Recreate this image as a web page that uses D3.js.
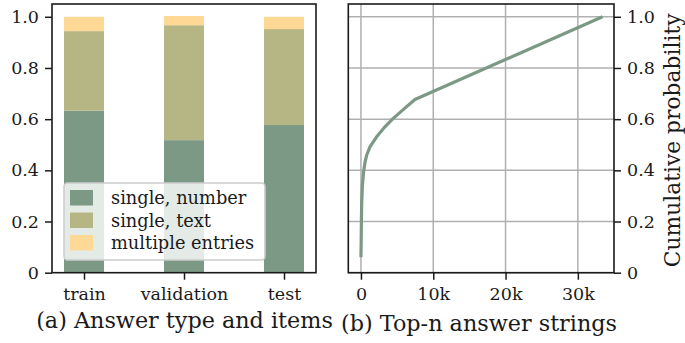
<!DOCTYPE html>
<html><head><meta charset="utf-8">
<script src="https://cdn.jsdelivr.net/npm/d3@7"></script>
<style>body{margin:0;background:#fff}svg{display:block}text{font-family:"DejaVu Serif",serif;fill:#1a1a1a}</style>
</head><body><svg id="c" width="685" height="343"></svg>
<script>
const splits = ["train","validation","test"];
const seriesNames = ["single, number","single, text","multiple entries"];
const singleNumber = [0.633, 0.518, 0.577];
const singleText = [0.311, 0.449, 0.375];
const multipleEntries = [0.056, 0.036, 0.048];
const seriesColors = ["#7b9985","#b6b584","#fed995"];
const yTicks = [0,0.2,0.4,0.6,0.8,1.0];
const yTickLabels = ["0","0.2","0.4","0.6","0.8","1.0"];
const topN = [0,30,60,100,200,350,550,800,1244,2170,3318,4466,6000,7466,33415];
const cumProb = [0.06,0.12,0.20,0.27,0.34,0.39,0.43,0.46,0.492,0.531,0.570,0.603,0.641,0.677,1.0];
const xTicks = [0,10000,20000,30000];
const xTickLabels = ["0","10k","20k","30k"];

const svg = d3.select("#c");
const yTop = 4, yBot = 272.7;
const fs = 17.5;
const tickLen = 7, tickPad = 6;
const spineW = 1.6;

function styleAxis(g){
  g.select(".domain").remove();
  g.selectAll("line").attr("stroke","#1a1a1a").attr("stroke-width",1.5);
  g.selectAll("text").attr("font-size",fs).attr("font-family","DejaVu Serif").attr("fill","#1a1a1a");
}

// ---------- panel (a) ----------
const L = {l:52, r:316};
const xa = d3.scaleLinear().domain([-0.32, 2.32]).range([L.l, L.r]);
const ya = d3.scaleLinear().domain([0, 1.05]).range([yBot, yTop]);
const ga = svg.append("g");
const bw = 0.4;
splits.forEach((s,i)=>{
  const vals = [singleNumber[i], singleText[i], multipleEntries[i]];
  let acc = 0;
  vals.forEach((v,k)=>{
    ga.append("rect").attr("x", xa(i-bw/2)).attr("width", xa(i+bw/2)-xa(i-bw/2))
      .attr("y", ya(acc+v)).attr("height", ya(acc)-ya(acc+v)).attr("fill", seriesColors[k]);
    acc += v;
  });
});
const gya = ga.append("g").attr("transform",`translate(${L.l},0)`)
  .call(d3.axisLeft(ya).tickValues(yTicks).tickFormat((d,i)=>yTickLabels[i]).tickSize(tickLen).tickPadding(tickPad));
const gxa = ga.append("g").attr("transform",`translate(0,${yBot})`)
  .call(d3.axisBottom(xa).tickValues([0,1,2]).tickFormat((d,i)=>splits[i]).tickSize(tickLen).tickPadding(tickPad));
styleAxis(gya); styleAxis(gxa);
gxa.selectAll("text").attr("dy","0.8em");

// legend
const lg = ga.append("g").attr("transform","translate(64,183)");
lg.append("rect").attr("width",201).attr("height",77).attr("rx",3.5).attr("fill","rgba(255,255,255,0.8)").attr("stroke","#cccccc").attr("stroke-width",1.5);
seriesNames.forEach((n,k)=>{
  lg.append("rect").attr("x",6).attr("y",7+k*22.5).attr("width",23).attr("height",15.5).attr("fill",seriesColors[k]);
  lg.append("text").attr("x",47).attr("y",21+k*22.5).attr("font-size",17.8).text(n);
});
ga.append("rect").attr("x",L.l).attr("y",yTop).attr("width",L.r-L.l).attr("height",yBot-yTop)
  .attr("fill","none").attr("stroke","#1a1a1a").attr("stroke-width",spineW);
svg.append("text").attr("x",184.5).attr("y",328).attr("text-anchor","middle").attr("font-size",22.3).text("(a) Answer type and items");

// ---------- panel (b) ----------
const R = {l:348.3, r:614};
const xb = d3.scaleLinear().domain([-1750, 35000]).range([R.l, R.r]);
const yb = d3.scaleLinear().domain([0, 1.05]).range([yBot, yTop]);
const gb = svg.append("g");
gb.append("g").selectAll("line").data(xTicks).join("line")
  .attr("x1",d=>xb(d)).attr("x2",d=>xb(d)).attr("y1",yTop).attr("y2",yBot).attr("stroke","#b0b0b0").attr("stroke-width",1.5);
gb.append("g").selectAll("line").data(yTicks).join("line")
  .attr("x1",R.l).attr("x2",R.r).attr("y1",d=>yb(d)).attr("y2",d=>yb(d)).attr("stroke","#b0b0b0").attr("stroke-width",1.5);
gb.append("path").datum(topN.map((x,i)=>[x,cumProb[i]]))
  .attr("d", d3.line().x(d=>xb(d[0])).y(d=>yb(d[1])))
  .attr("fill","none").attr("stroke","#7b9985").attr("stroke-width",3.2).attr("stroke-linejoin","round");
gb.append("rect").attr("x",R.l).attr("y",yTop).attr("width",R.r-R.l).attr("height",yBot-yTop)
  .attr("fill","none").attr("stroke","#1a1a1a").attr("stroke-width",spineW);
const gyb = gb.append("g").attr("transform",`translate(${R.r},0)`)
  .call(d3.axisRight(yb).tickValues(yTicks).tickFormat((d,i)=>yTickLabels[i]).tickSize(tickLen).tickPadding(tickPad));
const gxb = gb.append("g").attr("transform",`translate(0,${yBot})`)
  .call(d3.axisBottom(xb).tickValues(xTicks).tickFormat((d,i)=>xTickLabels[i]).tickSize(tickLen).tickPadding(tickPad));
styleAxis(gyb); styleAxis(gxb);
gxb.selectAll("text").attr("dy","0.8em");
svg.append("text").attr("transform",`translate(672,${(yTop+yBot)/2+2}) rotate(-90)`).attr("text-anchor","middle")
  .attr("dominant-baseline","central").attr("font-size",21.8).text("Cumulative probability");
svg.append("text").attr("x",479).attr("y",331).attr("text-anchor","middle").attr("font-size",22.3).text("(b) Top-n answer strings");
</script></body></html>
